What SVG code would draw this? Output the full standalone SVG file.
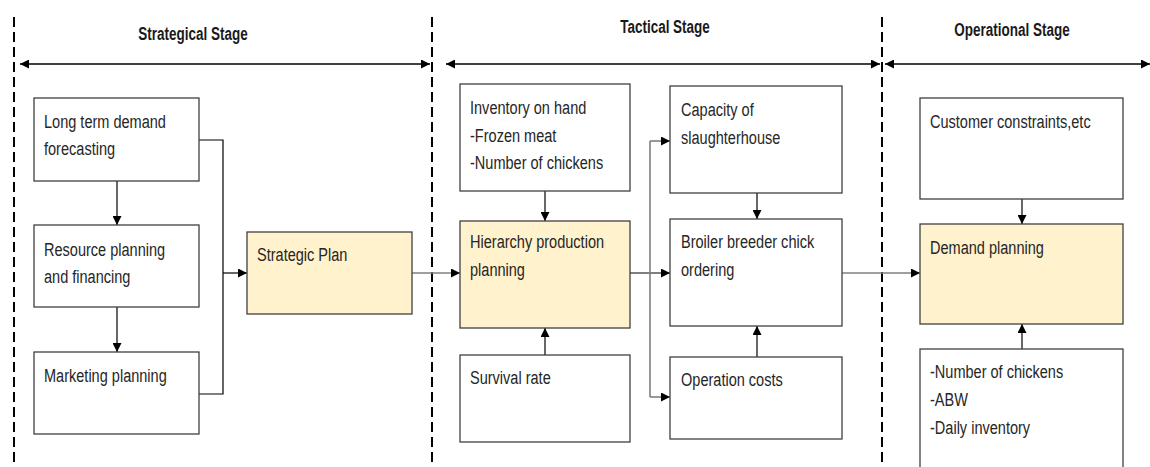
<svg xmlns="http://www.w3.org/2000/svg" width="1150" height="467" viewBox="0 0 1150 467">
  <style>
    .box { fill: #ffffff; stroke: #404040; stroke-width: 1.3; }
    .key { fill: #fff2cc; stroke: #404040; stroke-width: 1.3; }
    .lbl { font-family: "Liberation Sans", Arial, sans-serif; font-size: 19px; fill: #262626; }
    .hdr { font-family: "Liberation Sans", Arial, sans-serif; font-size: 19px; font-weight: bold; fill: #1a1a1a; text-anchor: middle; }
    .divider { stroke: #000000; stroke-width: 2; stroke-dasharray: 10 5; fill: none; }
    .span { stroke: #000000; stroke-width: 1.3; fill: none; marker-start: url(#head-start); marker-end: url(#head); }
    .link { stroke: #000000; stroke-width: 1.2; fill: none; }
    .link-grey { stroke: #7f7f7f; stroke-width: 1.6; fill: none; }
    .arrow { marker-end: url(#head); }
  </style>
  <defs>
    <marker id="head" viewBox="0 0 10 10" refX="10" refY="5" markerWidth="9" markerHeight="9" markerUnits="userSpaceOnUse" orient="auto">
      <path d="M0,0 L10,5 L0,10 Z" fill="#000000"/>
    </marker>
    <marker id="head-start" viewBox="0 0 10 10" refX="0" refY="5" markerWidth="9" markerHeight="9" markerUnits="userSpaceOnUse" orient="auto">
      <path d="M10,0 L0,5 L10,10 Z" fill="#000000"/>
    </marker>
  </defs>

  <rect width="1150" height="467" fill="#ffffff"/>

  <!-- stage dividers -->
  <g id="dividers">
    <line class="divider" x1="14" y1="17" x2="14" y2="467"/>
    <line class="divider" x1="432" y1="17" x2="432" y2="467"/>
    <line class="divider" x1="882" y1="17" x2="882" y2="467"/>
  </g>

  <!-- stage headers (narrow lettering: horizontal scale on each line) -->
  <g id="stage-strategical">
    <text class="hdr" transform="translate(193,40) scale(0.71,1)">Strategical Stage</text>
    <line class="span" x1="20" y1="64" x2="430" y2="64"/>
  </g>
  <g id="stage-tactical">
    <text class="hdr" transform="translate(665,33) scale(0.71,1)">Tactical Stage</text>
    <line class="span" x1="446" y1="64" x2="880" y2="64"/>
  </g>
  <g id="stage-operational">
    <text class="hdr" transform="translate(1012,36) scale(0.71,1)">Operational Stage</text>
    <line class="span" x1="885" y1="64" x2="1150" y2="64"/>
  </g>

  <!-- connectors -->
  <g id="connectors">
    <line class="link arrow" x1="117" y1="181" x2="117" y2="225"/>
    <line class="link arrow" x1="117" y1="307" x2="117" y2="352"/>
    <polyline class="link" points="199,140 223,140 223,394 199,394"/>
    <line class="link arrow" x1="223" y1="273" x2="247" y2="273"/>
    <line class="link-grey arrow" x1="412" y1="273" x2="460" y2="273"/>

    <line class="link arrow" x1="545" y1="191" x2="545" y2="221"/>
    <line class="link arrow" x1="545" y1="355" x2="545" y2="328"/>
    <line class="link arrow" x1="630" y1="273" x2="670" y2="273"/>
    <line class="link-grey" x1="650" y1="141" x2="650" y2="397"/>
    <line class="link-grey arrow" x1="650" y1="141" x2="670" y2="141"/>
    <line class="link-grey arrow" x1="650" y1="397" x2="670" y2="397"/>
    <line class="link arrow" x1="757" y1="193" x2="757" y2="219"/>
    <line class="link arrow" x1="757" y1="357" x2="757" y2="326"/>
    <line class="link-grey arrow" x1="842" y1="273" x2="920" y2="273"/>

    <line class="link arrow" x1="1022" y1="199" x2="1022" y2="224"/>
    <line class="link arrow" x1="1022" y1="349" x2="1022" y2="324"/>
  </g>

  <!-- strategical stage nodes -->
  <g id="long-term-demand">
    <rect class="box" x="34" y="98" width="165" height="83"/>
    <text class="lbl" transform="translate(44,128) scale(0.765,1)">Long term demand</text>
    <text class="lbl" transform="translate(44,155) scale(0.765,1)">forecasting</text>
  </g>
  <g id="resource-planning">
    <rect class="box" x="34" y="225" width="165" height="82"/>
    <text class="lbl" transform="translate(44,256) scale(0.765,1)">Resource planning</text>
    <text class="lbl" transform="translate(44,283) scale(0.765,1)">and financing</text>
  </g>
  <g id="marketing-planning">
    <rect class="box" x="34" y="352" width="165" height="82"/>
    <text class="lbl" transform="translate(44,382) scale(0.765,1)">Marketing planning</text>
  </g>
  <g id="strategic-plan">
    <rect class="key" x="247" y="232" width="165" height="82"/>
    <text class="lbl" transform="translate(257,261) scale(0.765,1)">Strategic Plan</text>
  </g>

  <!-- tactical stage nodes -->
  <g id="inventory">
    <rect class="box" x="460" y="84" width="170" height="107"/>
    <text class="lbl" transform="translate(470,114) scale(0.765,1)">Inventory on hand</text>
    <text class="lbl" transform="translate(470,142) scale(0.765,1)">-Frozen meat</text>
    <text class="lbl" transform="translate(470,169) scale(0.765,1)">-Number of chickens</text>
  </g>
  <g id="hierarchy-production">
    <rect class="key" x="460" y="221" width="170" height="107"/>
    <text class="lbl" transform="translate(470,248) scale(0.765,1)">Hierarchy production</text>
    <text class="lbl" transform="translate(470,276) scale(0.765,1)">planning</text>
  </g>
  <g id="survival-rate">
    <rect class="box" x="460" y="355" width="170" height="87"/>
    <text class="lbl" transform="translate(470,384) scale(0.765,1)">Survival rate</text>
  </g>
  <g id="slaughterhouse-capacity">
    <rect class="box" x="670" y="86" width="172" height="107"/>
    <text class="lbl" transform="translate(681,116) scale(0.765,1)">Capacity of</text>
    <text class="lbl" transform="translate(681,144) scale(0.765,1)">slaughterhouse</text>
  </g>
  <g id="chick-ordering">
    <rect class="box" x="670" y="219" width="172" height="107"/>
    <text class="lbl" transform="translate(681,248) scale(0.765,1)">Broiler breeder chick</text>
    <text class="lbl" transform="translate(681,276) scale(0.765,1)">ordering</text>
  </g>
  <g id="operation-costs">
    <rect class="box" x="670" y="357" width="172" height="82"/>
    <text class="lbl" transform="translate(681,386) scale(0.765,1)">Operation costs</text>
  </g>

  <!-- operational stage nodes -->
  <g id="customer-constraints">
    <rect class="box" x="920" y="98" width="203" height="101"/>
    <text class="lbl" transform="translate(930,128) scale(0.765,1)">Customer constraints,etc</text>
  </g>
  <g id="demand-planning">
    <rect class="key" x="920" y="224" width="203" height="100"/>
    <text class="lbl" transform="translate(930,254) scale(0.765,1)">Demand planning</text>
  </g>
  <g id="daily-figures">
    <rect class="box" x="920" y="349" width="203" height="125"/>
    <text class="lbl" transform="translate(930,378) scale(0.765,1)">-Number of chickens</text>
    <text class="lbl" transform="translate(930,406) scale(0.765,1)">-ABW</text>
    <text class="lbl" transform="translate(930,434) scale(0.765,1)">-Daily inventory</text>
  </g>
</svg>
